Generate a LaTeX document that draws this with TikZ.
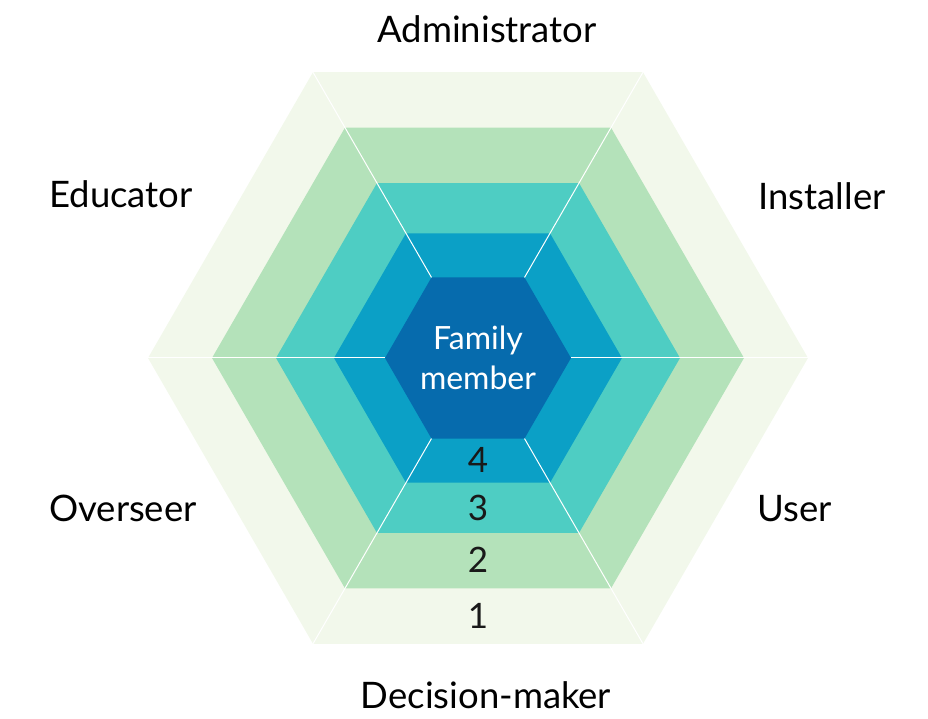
\documentclass[tikz,border=0pt]{standalone}
\usepackage{fontspec}
\setmainfont{Lato}
\usepackage{xcolor}
\definecolor{ringa}{HTML}{F2F8EB}
\definecolor{ringb}{HTML}{B4E2BA}
\definecolor{ringc}{HTML}{4ECDC3}
\definecolor{ringd}{HTML}{0BA0C6}
\definecolor{core}{HTML}{066BAD}
\begin{document}
\begin{tikzpicture}[x=1pt,y=1pt,
  role/.style={anchor=base,font=\fontsize{36.5}{40}\selectfont,text=black},
  level/.style={anchor=base,font=\fontsize{35}{40}\selectfont,text=black!90},
  spoke/.style={white,line width=1pt}]
  \useasboundingbox (-478,-361) rectangle (450,358);
  % rings, outside in
  \foreach \r/\c in {330/ringa,266/ringb,202/ringc,144/ringd,93/core}
    \fill[\c] (0:\r) -- (60:\r) -- (120:\r) -- (180:\r) -- (240:\r) -- (300:\r) -- cycle;
  \foreach \k in {0,...,5}{
    \coordinate (o\k) at (\k*60:330);
    \coordinate (c\k) at (\k*60:93);
    \draw[spoke] (c\k) -- (o\k);
  }
  \node[align=center,text=white,font=\fontsize{32}{40}\selectfont] (fam) at (0,0) {Family\\member};
  \node[level] (l4) at (0,-115) {4};
  \node[level] (l3) at (0,-162) {3};
  \node[level] (l2) at (0,-214) {2};
  \node[level] (l1) at (0,-270) {1};
  \node[role] (adm) at (9,315) {Administrator};
  \node[role] (ins) at (344,148) {Installer};
  \node[role] (usr) at (317,-164) {User};
  \node[role] (dec) at (8,-350) {Decision-maker};
  \node[role] (ovs) at (-355,-164) {Overseer};
  \node[role] (edu) at (-357,150) {Educator};
\end{tikzpicture}
\end{document}
